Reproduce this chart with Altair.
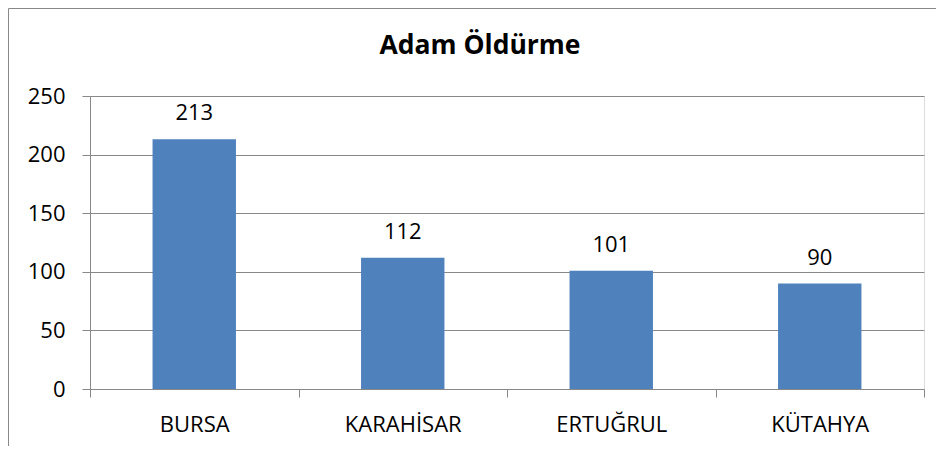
import altair as alt
import pandas as pd

categories = ["BURSA", "KARAHİSAR", "ERTUĞRUL", "KÜTAHYA"]
values = [213, 112, 101, 90]
y_ticks = [0, 50, 100, 150, 200, 250]
title_text = "Adam Öldürme"

df = pd.DataFrame({"il": categories, "sayi": values})

FONT = "Open Sans"
GRAY = "#888888"
BAR = "#4F81BD"

base = alt.Chart(df).encode(
    x=alt.X(
        "il:N",
        sort=None,
        title=None,
        scale=alt.Scale(paddingInner=0, paddingOuter=0),
        axis=alt.Axis(
            labelAngle=0,
            labelFont=FONT,
            labelFontSize=22,
            labelColor="#000000",
            labelPadding=17,
            tickBand="extent",
            tickSize=8,
            tickColor=GRAY,
            domainColor=GRAY,
            grid=False,
        ),
    ),
    y=alt.Y(
        "sayi:Q",
        title=None,
        scale=alt.Scale(domain=[0, 250], nice=False),
        axis=alt.Axis(
            values=y_ticks,
            labelFont=FONT,
            labelFontSize=22,
            labelColor="#000000",
            labelPadding=17,
            tickSize=8,
            tickColor=GRAY,
            domainColor=GRAY,
            gridColor=GRAY,
            grid=True,
        ),
    ),
)

bars = base.mark_bar(color=BAR, width=alt.RelativeBandSize(0.4))
labels = base.mark_text(
    font=FONT, fontSize=22, color="#000000", baseline="alphabetic", dy=-19
).encode(text="sayi:Q")

border_df = pd.DataFrame({"k": [0]})
left_border = alt.Chart(border_df).mark_rule(color=GRAY, strokeWidth=1, clip=False).encode(
    x=alt.value(-81.5), y=alt.value(-87.5), y2=alt.value(360)
)
top_border = alt.Chart(border_df).mark_rule(color=GRAY, strokeWidth=1, clip=False).encode(
    x=alt.value(-81.5), x2=alt.value(846), y=alt.value(-87.5)
)

chart = (
    alt.layer(bars, labels, left_border, top_border)
    .properties(
        width=834,
        height=293,
        title=alt.TitleParams(
            title_text,
            font=FONT,
            fontSize=26.5,
            fontWeight="bold",
            color="#000000",
            anchor="middle",
            baseline="alphabetic",
            offset=-72.5,
            dx=-27,
        ),
        padding={"left": 82, "top": 88, "right": 12, "bottom": 57},
        autosize=alt.AutoSizeParams(type="none"),
    )
    .configure_view(stroke=None)
    .configure(background="#ffffff")
)

chart.save("out.html", embed_options={"renderer": "svg", "actions": False})
